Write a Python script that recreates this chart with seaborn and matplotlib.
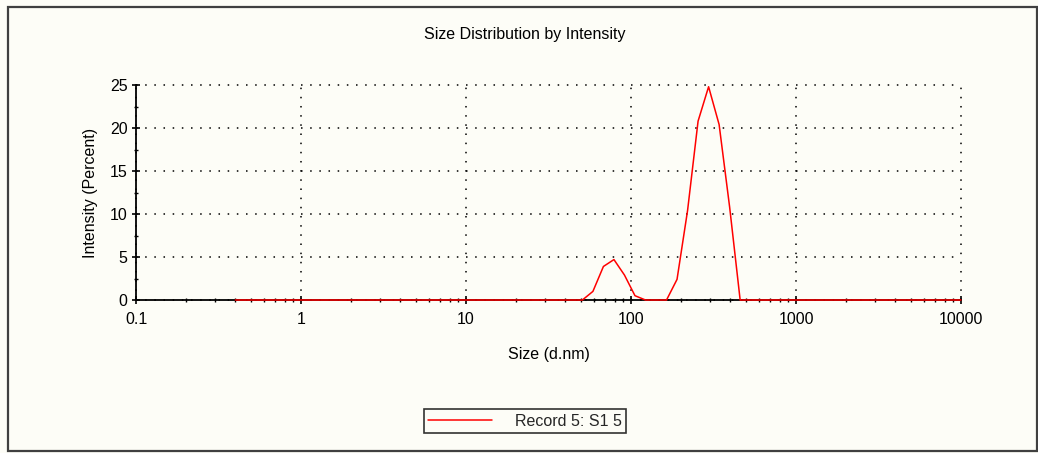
import matplotlib
matplotlib.use("Agg")
import matplotlib.pyplot as plt
from matplotlib.patches import Rectangle
from matplotlib.ticker import LogLocator, FixedLocator, NullFormatter, FuncFormatter
import seaborn as sns
import pandas as pd

# Size classes (d.nm) of the distribution
sizes = [
    0.4, 0.4632, 0.5365, 0.6213, 0.7195, 0.8332, 0.9649, 1.117, 1.294, 1.499,
    1.736, 2.010, 2.328, 2.696, 3.122, 3.615, 4.187, 4.849, 5.615, 6.503,
    7.531, 8.721, 10.10, 11.70, 13.54, 15.69, 18.17, 21.04, 24.36, 28.21,
    32.67, 37.84, 43.82, 50.75, 58.77, 68.06, 78.82, 91.28, 105.7, 122.4,
    141.8, 164.2, 190.1, 220.2, 255.0, 295.3, 342.0, 396.1, 458.7, 531.2,
    615.1, 712.4, 825.0, 955.4, 1106, 1281, 1484, 1718, 1990, 2305,
    2669, 3091, 3580, 4145, 4801, 5560, 6439, 7456, 8635, 10000,
]

# Intensity (%) in each size class
intensity = [
    0, 0, 0, 0, 0, 0, 0, 0, 0, 0,
    0, 0, 0, 0, 0, 0, 0, 0, 0, 0,
    0, 0, 0, 0, 0, 0, 0, 0, 0, 0,
    0, 0, 0, 0, 1.0, 3.9, 4.7, 2.9, 0.5, 0,
    0, 0, 2.4, 10.4, 20.8, 24.8, 20.4, 10.8, 0, 0,
    0, 0, 0, 0, 0, 0, 0, 0, 0, 0,
    0, 0, 0, 0, 0, 0, 0, 0, 0, 0,
]

record_name = "Record 5: S1 5"
title = "Size Distribution by Intensity"
x_label = "Size (d.nm)"
y_label = "Intensity (Percent)"
x_ticks = [0.1, 1, 10, 100, 1000, 10000]
y_ticks = [0, 5, 10, 15, 20, 25]

df = pd.DataFrame({"Size": sizes, "Intensity": intensity, "Record": record_name})

sns.set_theme(style="white")
plt.rcParams["font.family"] = ["Liberation Sans", "DejaVu Sans"]

W, H = 1038, 453
bg = "#fdfdf7"
fig = plt.figure(figsize=(W / 100, H / 100), dpi=100, facecolor=bg)

# frame around the whole chart
fig.patches.append(Rectangle((8 / W, 1 - 451 / H), 1029 / W, 444 / H,
                             transform=fig.transFigure, fill=False,
                             edgecolor="#404040", linewidth=1.6))

ax = fig.add_axes([136 / W, 1 - 300 / H, 825 / W, 215 / H], facecolor=bg)

sns.lineplot(data=df, x="Size", y="Intensity", hue="Record",
             palette=["#ff0000"], linewidth=1.1, estimator=None, sort=False,
             ax=ax, zorder=5, clip_on=False)

ax.set_xscale("log")
ax.set_xlim(0.1, 10000)
ax.set_ylim(0, 25)

for s in ["top", "right"]:
    ax.spines[s].set_visible(False)
for s in ["left", "bottom"]:
    ax.spines[s].set_color("black")
    ax.spines[s].set_linewidth(1.3)
    ax.spines[s].set_zorder(3)

ax.xaxis.set_major_locator(FixedLocator(x_ticks))
ax.xaxis.set_major_formatter(FuncFormatter(lambda v, p: f"{v:g}"))
ax.xaxis.set_minor_locator(LogLocator(base=10, subs=range(2, 10), numticks=20))
ax.xaxis.set_minor_formatter(NullFormatter())
ax.yaxis.set_major_locator(FixedLocator(y_ticks))
ax.yaxis.set_minor_locator(FixedLocator([2.5, 7.5, 12.5, 17.5, 22.5]))

ax.tick_params(which="major", direction="inout", length=6, width=1.2,
               color="black", labelsize=11.5, labelcolor="black")
ax.tick_params(which="minor", direction="inout", length=3.2, width=1.0,
               color="black")
ax.tick_params(axis="x", which="major", pad=6)
ax.tick_params(axis="y", which="major", pad=3)
ax.tick_params(bottom=True, left=True, which="both")

ax.grid(True, which="major", color="black", linestyle=(0, (1, 5)),
        linewidth=1.1)
ax.set_axisbelow(True)
fig.canvas.draw()
# keep the outermost dotted grid lines (top and right edge) fully visible
for gl in ax.get_xgridlines() + ax.get_ygridlines():
    gl.set_clip_on(False)

ax.set_xlabel(x_label, fontsize=11.5, color="black", va="center")
ax.xaxis.set_label_coords(0.5, -(355 - 300) / 215)
ax.set_ylabel(y_label, fontsize=11.5, color="black", va="center")
ax.yaxis.set_label_coords(-(136 - 90) / 825, 0.5)

fig.text(525 / W, 1 - 35 / H, title, ha="center", va="center",
         fontsize=11.5, color="black")

handles, labels = ax.get_legend_handles_labels()
ax.get_legend().remove()
leg = fig.legend(handles, labels, loc="center",
                 bbox_to_anchor=(525 / W, 1 - 421 / H),
                 bbox_transform=fig.transFigure, fontsize=11.5,
                 frameon=True, fancybox=False, shadow=False,
                 handlelength=4.0, handletextpad=1.4, borderpad=0.3,
                 borderaxespad=0)
leg.get_frame().set_edgecolor("black")
leg.get_frame().set_linewidth(1.2)
leg.get_frame().set_facecolor(bg)

fig.savefig("out.png", dpi=100, facecolor=bg)
